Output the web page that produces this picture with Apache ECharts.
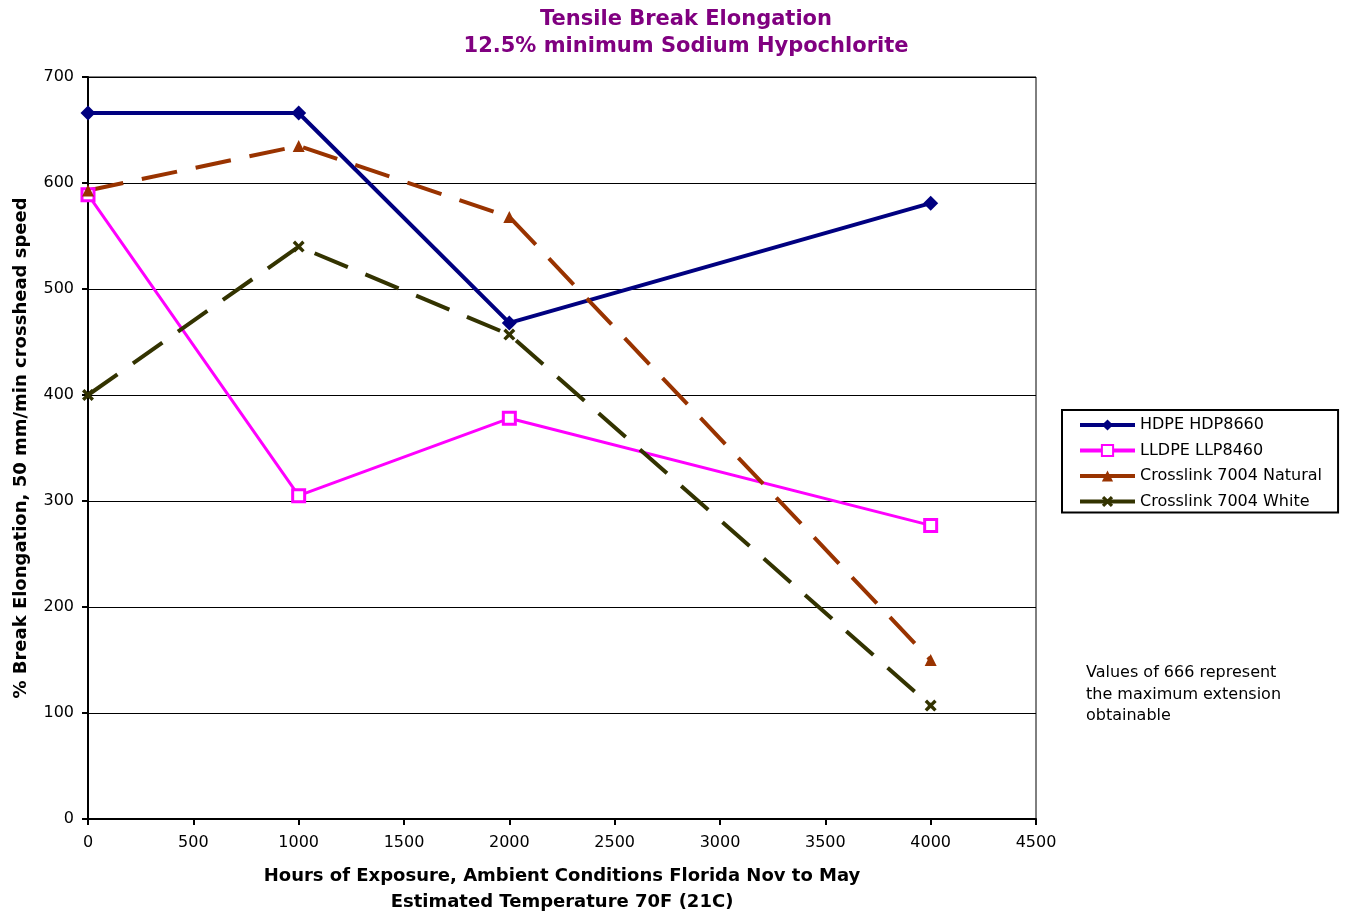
<!DOCTYPE html>
<html>
<head>
<meta charset="utf-8">
<script src="https://cdn.jsdelivr.net/npm/echarts@6/dist/echarts.min.js"></script>
<style>
  html, body { margin: 0; padding: 0; background: #fff; }
  #chart { width: 1346px; height: 916px; }
</style>
</head>
<body>
<div id="chart"></div>
<script>
// Exposure hours
const hours = [0, 1000, 2000, 4000];
// % break elongation per material
const hdpe = [666, 666, 468, 581];
const lldpe = [589, 305, 378, 277];
const xlNatural = [593, 635, 568, 150];
const xlWhite = [400, 540, 457, 107];
const seriesNames = ['HDPE HDP8660', 'LLDPE LLP8460', 'Crosslink 7004 Natural', 'Crosslink 7004 White'];
const noteLines = ['Values of 666 represent', 'the maximum extension', 'obtainable'];

const font = '"DejaVu Sans", Verdana, sans-serif';
const pairs = (ys) => hours.map((h, i) => [h, ys[i]]);
const crossPath = 'path://M0,2 L2,0 L5,3 L8,0 L10,2 L7,5 L10,8 L8,10 L5,7 L2,10 L0,8 L3,5 Z';
const colors = ['#000080', '#ff00ff', '#993300', '#333300'];

const chart = echarts.init(document.getElementById('chart'));
chart.setOption({
  animation: false,
  backgroundColor: '#fff',
  title: {
    text: 'Tensile Break Elongation\n12.5% minimum Sodium Hypochlorite',
    left: 681, top: 1, textAlign: 'center',
    textStyle: { color: '#800080', fontSize: 21, fontWeight: 'bold', fontFamily: font, lineHeight: 27 }
  },
  grid: {
    left: 88, top: 77, width: 948, height: 742,
    outerBoundsMode: 'none', containLabel: false,
    show: true, borderColor: '#000', borderWidth: 1, backgroundColor: 'transparent'
  },
  xAxis: {
    type: 'value', min: 0, max: 4500, interval: 500,
    name: 'Hours of Exposure, Ambient Conditions Florida Nov to May\nEstimated Temperature 70F (21C)',
    nameLocation: 'middle', nameGap: 44,
    nameTextStyle: { color: '#000', fontSize: 18, fontWeight: 'bold', fontFamily: font, lineHeight: 26 },
    axisLine: { lineStyle: { color: '#000', width: 2 } },
    axisTick: { show: true, length: 6, lineStyle: { color: '#000', width: 2 } },
    axisLabel: { color: '#000', fontSize: 16, fontFamily: font, margin: 16, formatter: (v) => String(v) },
    splitLine: { show: false }
  },
  yAxis: {
    type: 'value', min: 0, max: 700, interval: 100,
    name: '% Break Elongation, 50 mm/min crosshead speed',
    nameLocation: 'middle', nameGap: 58,
    nameTextStyle: { color: '#000', fontSize: 18, fontWeight: 'bold', fontFamily: font },
    axisLine: { show: true, lineStyle: { color: '#000', width: 2 } },
    axisTick: { show: true, length: 6, lineStyle: { color: '#000', width: 2 } },
    axisLabel: { color: '#000', fontSize: 16, fontFamily: font, margin: 14, formatter: (v) => String(v) },
    splitLine: { show: true, lineStyle: { color: '#000', width: 1 } }
  },
  legend: {
    orient: 'vertical', left: 1062, top: 410,
    borderColor: '#000', borderWidth: 2,
    padding: [7, 16, 3, 16],
    itemGap: 9.5, itemWidth: 55, itemHeight: 14,
    textStyle: { color: '#000', fontSize: 16, fontFamily: font },
    data: seriesNames.map((n, i) => ({
      name: n,
      lineStyle: { width: 4, type: 'solid', color: colors[i] }
    }))
  },
  series: [
    {
      name: seriesNames[0], type: 'line', data: pairs(hdpe),
      symbol: 'diamond', symbolSize: 15,
      lineStyle: { color: colors[0], width: 4 },
      itemStyle: { color: colors[0] }
    },
    {
      name: seriesNames[1], type: 'line', data: pairs(lldpe),
      symbol: 'rect', symbolSize: 12,
      lineStyle: { color: colors[1], width: 3 },
      itemStyle: { color: '#ffffff', borderColor: colors[1], borderWidth: 3 }
    },
    {
      name: seriesNames[2], type: 'line', data: pairs(xlNatural),
      symbol: 'triangle', symbolSize: 12,
      lineStyle: { color: colors[2], width: 4, type: [36, 19] },
      itemStyle: { color: colors[2] }
    },
    {
      name: seriesNames[3], type: 'line', data: pairs(xlWhite),
      symbol: crossPath, symbolSize: 12,
      lineStyle: { color: colors[3], width: 4, type: [36, 19] },
      itemStyle: { color: colors[3] }
    }
  ],
  graphic: noteLines.map((t, i) => ({
    type: 'text', left: 1086, top: 665 + i * 21.5,
    style: { text: t, fill: '#000', font: '16px ' + font }
  }))
});
</script>
</body>
</html>
